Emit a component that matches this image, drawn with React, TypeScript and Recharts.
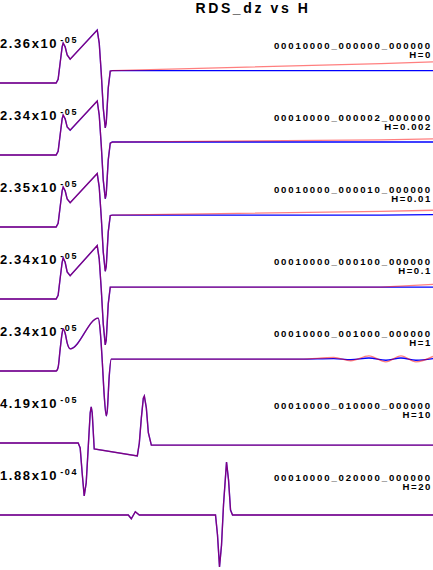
import React from 'react';
import { LineChart, Line, XAxis, YAxis } from 'recharts';

// per-run scale factor shown at the left of each trace
const scaleMantissa = ['2.36', '2.34', '2.35', '2.34', '2.34', '4.19', '1.88'];
const scaleExponent = ['-05', '-05', '-05', '-05', '-05', '-05', '-04'];
const runIds = [
  '00010000_000000_000000',
  '00010000_000002_000000',
  '00010000_000010_000000',
  '00010000_000100_000000',
  '00010000_001000_000000',
  '00010000_010000_000000',
  '00010000_020000_000000',
];
const hValues = ['0', '0.002', '0.01', '0.1', '1', '10', '20'];

// normalized traces (1 = full scale of each run)
const xPulse = [0, 56, 58, 60, 62, 63, 65, 67, 70, 97, 99, 101, 103, 105, 106, 108, 110, 112, 380, 432];
const blueH0 = [0, 0, 0.07, 0.37, 0.67, 0.74, 0.67, 0.52, 0.44, 0.98, 0.74, 0.19, -0.46, -0.83, -0.74, -0.09, 0.22, 0.23, 0.23, 0.23];
const redH0 = [0, 0, 0.07, 0.37, 0.67, 0.74, 0.67, 0.52, 0.44, 0.98, 0.74, 0.19, -0.46, -0.83, -0.74, -0.09, 0.22, 0.23, 0.36, 0.39];
const blueH0002 = [0, 0, 0.07, 0.37, 0.67, 0.74, 0.67, 0.52, 0.46, 1.0, 0.74, 0.19, -0.46, -0.81, -0.72, -0.09, 0.22, 0.24, 0.24, 0.24];
const redH0002 = [0, 0, 0.07, 0.37, 0.67, 0.74, 0.67, 0.52, 0.46, 1.0, 0.74, 0.19, -0.46, -0.81, -0.72, -0.09, 0.22, 0.24, 0.28, 0.3];
const blueH001 = [0, 0, 0.07, 0.37, 0.67, 0.74, 0.67, 0.52, 0.45, 0.99, 0.74, 0.19, -0.46, -0.82, -0.73, -0.09, 0.21, 0.22, 0.22, 0.23];
const redH001 = [0, 0, 0.07, 0.37, 0.67, 0.74, 0.67, 0.52, 0.45, 0.99, 0.74, 0.19, -0.46, -0.82, -0.73, -0.09, 0.21, 0.22, 0.29, 0.31];
const blueH01 = [0, 0, 0.07, 0.38, 0.68, 0.76, 0.68, 0.5, 0.43, 0.99, 0.74, 0.19, -0.46, -0.85, -0.76, -0.09, 0.22, 0.22, 0.22, 0.22];
const redH01 = [0, 0, 0.07, 0.38, 0.68, 0.76, 0.68, 0.5, 0.43, 0.99, 0.74, 0.19, -0.46, -0.85, -0.76, -0.09, 0.22, 0.22, 0.22, 0.27];

const xH1 = [0, 56, 58, 60, 62, 63, 65, 67, 70, 98, 100, 102, 104, 106, 107, 109, 111, 113, 300, 333, 350, 368, 385, 400, 415, 432];
const blueH1 = [0, 0, 0.07, 0.4, 0.7, 0.78, 0.7, 0.52, 0.41, 0.98, 0.74, 0.19, -0.46, -0.83, -0.74, -0.09, 0.22, 0.22, 0.22, 0.23, 0.21, 0.24, 0.2, 0.24, 0.2, 0.23];
const redH1 = [0, 0, 0.07, 0.4, 0.7, 0.78, 0.7, 0.52, 0.41, 0.98, 0.74, 0.19, -0.46, -0.83, -0.74, -0.09, 0.22, 0.22, 0.22, 0.25, 0.19, 0.28, 0.17, 0.28, 0.17, 0.27];

const xH10 = [0, 78, 80, 82, 84, 86, 88, 90, 91, 92, 94, 137, 139, 141, 143, 144, 146, 148, 151, 432];
const blueH10 = [0, 0, -0.09, -0.56, -0.98, -0.74, -0.09, 0.56, 0.67, 0.56, -0.11, -0.24, 0, 0.46, 0.83, 0.87, 0.65, 0.19, -0.04, -0.04];
const redH10 = [0, 0, -0.09, -0.56, -0.98, -0.74, -0.09, 0.56, 0.67, 0.56, -0.11, -0.24, 0, 0.46, 0.83, 0.87, 0.65, 0.19, -0.04, -0.04];

const xH20 = [0, 128, 131, 135, 139, 215, 217, 219, 221, 223, 226, 228, 230, 232, 432];
const blueH20 = [0, 0, -0.07, 0.06, 0, 0, -0.37, -0.96, -0.56, 0.19, 0.98, 0.65, 0.09, 0, 0];
const redH20 = [0, 0, -0.07, 0.06, 0, 0, -0.37, -0.96, -0.56, 0.19, 0.98, 0.65, 0.09, 0, 0];

const traces = [
  { xs: xPulse, blue: blueH0, red: redH0 },
  { xs: xPulse, blue: blueH0002, red: redH0002 },
  { xs: xPulse, blue: blueH001, red: redH001 },
  { xs: xPulse, blue: blueH01, red: redH01 },
  { xs: xH1, blue: blueH1, red: redH1, smooth: true },
  { xs: xH10, blue: blueH10, red: redH10 },
  { xs: xH20, blue: blueH20, red: redH20 },
];

const W = 433;
const H = 570;
const FIRST_BASE = 83;
const STEP = 72;
const AMP = 54;

const toPoints = (xs: number[], ys: number[], i: number) =>
  xs.map((x, k) => ({ x, y: ys[k] * AMP - (FIRST_BASE + STEP * i) }));

const font = '"Liberation Sans", Arial, Helvetica, sans-serif';

export default function App() {
  return (
    <div style={{ position: 'absolute', left: 0, top: 0, width: W, height: H, background: '#fff' }}>
      <svg width={W} height={H} style={{ position: 'absolute', left: 0, top: 0 }} fontFamily={font} fontWeight="bold">
        <text x={253} y={13} textAnchor="middle" fontSize={14} letterSpacing={2.6} fill="#000">
          RDS_dz vs H
        </text>
        {runIds.map((id, i) => (
          <g key={id}>
            <text x={0} y={48 + STEP * i} fontSize={13} letterSpacing={1.6} fill="#000">
              {scaleMantissa[i]}x10
              <tspan fontSize={9} letterSpacing={1.6} dx={2} dy={-5.5}>
                {scaleExponent[i]}
              </tspan>
            </text>
            <text x={432} y={48.5 + STEP * i} textAnchor="end" fontSize={9.6} letterSpacing={1.85} fill="#000">
              {id}
            </text>
            <text x={432} y={58 + STEP * i} textAnchor="end" fontSize={9.6} letterSpacing={1.6} fill="#000">
              H={hValues[i]}
            </text>
          </g>
        ))}
      </svg>
      <div style={{ position: 'absolute', left: 0, top: 0 }}>
        <LineChart width={W} height={H} margin={{ top: 0, right: 0, bottom: 0, left: 0 }}>
          <XAxis dataKey="x" type="number" domain={[0, 432]} hide />
          <YAxis type="number" domain={[-H, 0]} hide allowDataOverflow />
          {traces.map((t, i) => (
            <Line
              key={`b${i}`}
              data={toPoints(t.xs, t.blue, i)}
              dataKey="y"
              type={t.smooth ? 'monotone' : 'linear'}
              stroke="#0000ff"
              strokeWidth={1.4}
              dot={false}
              activeDot={false}
              isAnimationActive={false}
            />
          ))}
          {traces.map((t, i) => (
            <Line
              key={`r${i}`}
              data={toPoints(t.xs, t.red, i)}
              dataKey="y"
              type={t.smooth ? 'monotone' : 'linear'}
              stroke="#ff0000"
              strokeOpacity={0.5}
              strokeWidth={1.3}
              dot={false}
              activeDot={false}
              isAnimationActive={false}
            />
          ))}
        </LineChart>
      </div>
    </div>
  );
}
